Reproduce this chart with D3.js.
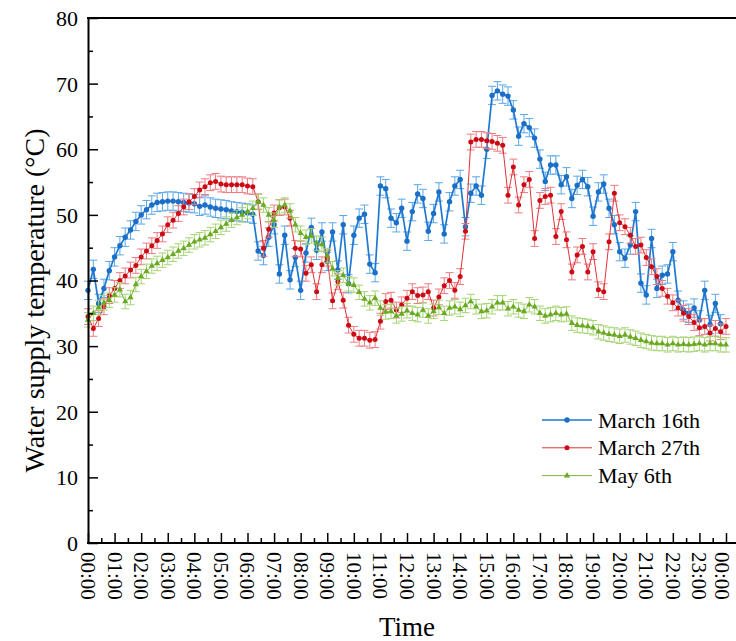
<!DOCTYPE html>
<html>
<head>
<meta charset="utf-8">
<script src="https://cdn.jsdelivr.net/npm/d3@7"></script>
<style>
  body { margin: 0; background: #fff; }
  text { font-family: "Liberation Serif", "Times New Roman", serif; fill: #000; }
</style>
</head>
<body>
<div id="chart"></div>
<script>
// Water supply temperature, one reading every 12 minutes (5 per hour)
const STEP_H = 0.2;

const march16 = [
	38.5, 41.7, 36.5, 38.8, 41.5,
	43.6, 45.3, 46.6, 47.7, 49.0,
	50.0, 50.8, 51.5, 51.9, 52.0,
	52.1, 52.1, 52.0, 51.9, 51.8,
	51.7, 51.3, 51.5, 51.2, 51.0,
	50.9, 50.8, 50.6, 50.5, 50.4,
	50.3, 50.1, 44.5, 43.8, 46.6,
	48.5, 41.0, 46.9, 40.1, 43.5,
	38.5, 44.2, 48.1, 44.6, 47.4,
	42.9, 47.4, 41.6, 48.5, 39.5,
	46.9, 49.5, 50.1, 42.5, 41.2,
	54.4, 54.0, 49.5, 48.8, 51.0,
	46.0, 50.5, 53.2, 52.5, 47.5,
	50.2, 53.5, 47.1, 52.0, 54.4,
	55.4, 48.2, 53.3, 54.4, 53.0,
	60.0, 68.2, 68.9, 68.4, 68.1,
	66.0, 62.0, 63.9, 63.3, 61.7,
	58.5, 55.1, 57.6, 57.6, 54.6,
	55.8, 52.5, 54.5, 55.4, 54.3,
	49.8, 53.5, 54.7, 51.0, 48.5,
	44.4, 43.4, 45.4, 50.5, 39.6,
	37.8, 46.4, 38.8, 40.8, 41.0,
	44.4, 37.0, 35.5, 35.0, 35.8,
	34.0, 38.5, 33.3, 36.5, 33.4
];

const march27 = [
	34.5, 32.7, 34.2, 36.0, 37.7,
	38.8, 40.0, 40.7, 41.6, 42.3,
	43.6, 44.5, 45.3, 46.1, 47.1,
	48.5, 49.2, 50.2, 51.2, 52.0,
	52.8, 53.8, 54.3, 54.9, 55.1,
	54.7, 54.6, 54.6, 54.6, 54.6,
	54.4, 54.3, 52.0, 44.9, 47.8,
	50.3, 51.1, 51.2, 49.5, 44.9,
	44.8, 41.1, 42.4, 38.3, 42.4,
	43.4, 36.9, 39.8, 37.0, 33.2,
	31.8, 31.2, 31.2, 30.9, 31.0,
	33.8, 36.8, 37.0, 35.5, 36.3,
	37.3, 38.3, 37.7, 37.8, 38.3,
	35.8, 37.5, 39.2, 40.0, 38.5,
	40.6, 47.5, 61.1, 61.5, 61.5,
	61.3, 61.2, 60.9, 60.6, 53.0,
	57.3, 51.5, 54.6, 55.4, 46.4,
	52.2, 52.8, 53.0, 46.7, 50.5,
	46.2, 41.3, 43.9, 45.2, 41.3,
	44.4, 38.6, 38.3, 45.9, 53.3,
	48.8, 48.2, 46.9, 45.2, 45.4,
	43.5, 42.1, 40.6, 38.8, 37.6,
	36.6, 35.8, 35.0, 34.5, 33.6,
	32.8, 33.0, 32.0, 32.7, 32.2,
	33.0
];

const may6 = [
	34.0, 35.0, 35.9, 36.6, 37.0,
	37.8, 38.6, 36.8, 37.4, 39.4,
	40.6, 41.4, 42.2, 42.6, 43.1,
	43.5, 44.0, 44.5, 44.9, 45.4,
	45.9, 46.2, 46.5, 47.0, 47.5,
	48.1, 48.6, 49.2, 49.6, 50.0,
	50.5, 51.0, 52.0, 51.5, 50.0,
	49.2, 51.2, 51.5, 50.6, 48.5,
	47.2, 46.6, 46.8, 45.7, 45.5,
	43.8, 41.8, 40.4, 40.8, 39.5,
	39.3, 38.2, 37.2, 36.6, 37.3,
	35.8, 35.2, 35.3, 34.6, 34.9,
	35.4, 35.0, 34.8, 35.5, 34.6,
	35.3, 35.9, 35.0, 35.8, 36.0,
	35.6, 36.2, 36.8, 36.0, 35.3,
	35.4, 36.0, 36.6, 36.6, 35.7,
	36.0, 35.5, 35.3, 36.3, 36.0,
	35.0, 34.6, 34.8, 35.0, 34.8,
	34.9, 33.5, 33.2, 33.1, 33.0,
	32.8, 32.2, 32.0, 31.8, 31.7,
	31.5, 31.7, 31.4, 31.2, 30.9,
	30.7, 30.5, 30.4, 30.4, 30.2,
	30.4, 30.2, 30.3, 30.2, 30.3,
	30.4, 30.2, 30.4, 30.4, 30.2,
	30.2
];

// error bar half-height (deg C) for each series
const errors = [1.4, 1.2, 1.1];

const seriesNames = ["March 16th", "March 27th", "May 6th"];
const yTicks = [0, 10, 20, 30, 40, 50, 60, 70, 80];
const xTicks = d3.range(0, 25);

const width = 736, height = 641;
const plot = {left: 88, right: 726, top: 18, bottom: 543};

const svg = d3.select("#chart").append("svg")
	.attr("width", width)
	.attr("height", height);

svg.append("rect").attr("width", width).attr("height", height).attr("fill", "#fff");

let x = d3.scaleLinear().domain([0, 24]).range([plot.left, plot.right]);
let y = d3.scaleLinear().domain([0, 80]).range([plot.bottom, plot.top]);

const styles = [
	{line: "#1f78d1", mark: "#1b6fc6", err: "#5aa7e6", lw: 1.7, shape: "circle", r: 2.7},
	{line: "#e0323a", mark: "#cc0a14", err: "#ee7b80", lw: 1.0, shape: "circle", r: 2.5},
	{line: "#7cb83a", mark: "#6aaa22", err: "#a6d474", lw: 1.0, shape: "triangle", r: 2.3}
];

const allSeries = [march16, march27, may6].map(function(vals, k) {
	return vals.map(function(v, i) { return {t: i * STEP_H, v: v, e: errors[k]}; });
});

function drawMarker(g, shape, cx, cy, r, color) {
	if (shape == "circle") {
		g.append("circle").attr("cx", cx).attr("cy", cy).attr("r", r).attr("fill", color);
	} else {
		let s = d3.symbol().type(d3.symbolTriangle).size(r * r * 3.2);
		g.append("path").attr("d", s()).attr("transform", "translate(" + cx + "," + cy + ")").attr("fill", color);
	}
}

// series: error bars, line, markers
allSeries.forEach(function(data, k) {
	let st = styles[k];
	let g = svg.append("g");

	let eb = g.append("g").attr("stroke", st.err).attr("stroke-width", 1).attr("fill", "none");
	data.forEach(function(d) {
		let cx = x(d.t);
		eb.append("line").attr("x1", cx).attr("x2", cx).attr("y1", y(d.v - d.e)).attr("y2", y(d.v + d.e));
		eb.append("line").attr("x1", cx - 4).attr("x2", cx + 4).attr("y1", y(d.v - d.e)).attr("y2", y(d.v - d.e));
		eb.append("line").attr("x1", cx - 4).attr("x2", cx + 4).attr("y1", y(d.v + d.e)).attr("y2", y(d.v + d.e));
	});

	let line = d3.line().x(function(d) { return x(d.t); }).y(function(d) { return y(d.v); });
	g.append("path").datum(data)
		.attr("d", line)
		.attr("fill", "none")
		.attr("stroke", st.line)
		.attr("stroke-width", st.lw);

	data.forEach(function(d) { drawMarker(g, st.shape, x(d.t), y(d.v), st.r, st.mark); });
});

// Axes
let yAxis = svg.append("g").attr("transform", "translate(" + plot.left + ",0)")
	.call(d3.axisLeft(y).tickValues(yTicks).tickSize(-10).tickSizeOuter(0).tickPadding(10));
yAxis.selectAll("text").style("font-size", "22px").attr("dy", "0.34em");

svg.append("g").attr("transform", "translate(" + plot.left + ",0)")
	.call(d3.axisLeft(y).tickValues(d3.range(5, 80, 10)).tickSize(-5).tickFormat(""))
	.select(".domain").remove();

let xAxis = svg.append("g").attr("transform", "translate(0," + plot.bottom + ")")
	.call(d3.axisBottom(x).tickValues(xTicks).tickSize(-10).tickSizeOuter(0)
		.tickFormat(function(h) { return d3.format("02")(h % 24) + ":00"; }));
xAxis.select(".domain").remove();
xAxis.selectAll("text")
	.style("font-size", "21px")
	.style("text-anchor", "start")
	.attr("x", 9)
	.attr("y", function(h) { return h == 24 ? 4 : 0; }) // last label nudged off the page edge
	.attr("dy", "0.36em")
	.attr("transform", "rotate(90)");

svg.append("g").attr("transform", "translate(0," + plot.bottom + ")")
	.call(d3.axisBottom(x).tickValues(d3.range(0.5, 24, 1)).tickSize(-5).tickFormat(""))
	.select(".domain").remove();

svg.selectAll(".tick line").attr("stroke", "#000").attr("stroke-width", 1.5);
svg.selectAll(".domain").attr("stroke", "#000").attr("stroke-width", 2);

// frame lines (bottom and top run to the page edge)
svg.append("line").attr("x1", plot.left - 1).attr("x2", width).attr("y1", plot.bottom).attr("y2", plot.bottom)
	.attr("stroke", "#000").attr("stroke-width", 2);
svg.append("line").attr("x1", plot.left - 1).attr("x2", width).attr("y1", plot.top).attr("y2", plot.top)
	.attr("stroke", "#000").attr("stroke-width", 2);

// Axis titles
svg.append("text")
	.attr("transform", "translate(44," + ((plot.top + plot.bottom) / 2 + 20) + ")rotate(-90)")
	.style("text-anchor", "middle")
	.style("font-size", "28px")
	.text("Water supply temperature (°C)");

svg.append("text")
	.attr("x", (plot.left + plot.right) / 2)
	.attr("y", 636)
	.style("text-anchor", "middle")
	.style("font-size", "27px")
	.text("Time");

// Legend
let legend = svg.append("g");
seriesNames.forEach(function(name, k) {
	let st = styles[k];
	let ly = 420 + k * 27.8;
	legend.append("line").attr("x1", 542).attr("x2", 592).attr("y1", ly).attr("y2", ly)
		.attr("stroke", st.line).attr("stroke-width", st.lw);
	drawMarker(legend, st.shape, 567, ly, st.r, st.mark);
	legend.append("text")
		.attr("x", 598).attr("y", ly + 7.5)
		.style("font-size", "22px")
		.text(name);
});
</script>
</body>
</html>
